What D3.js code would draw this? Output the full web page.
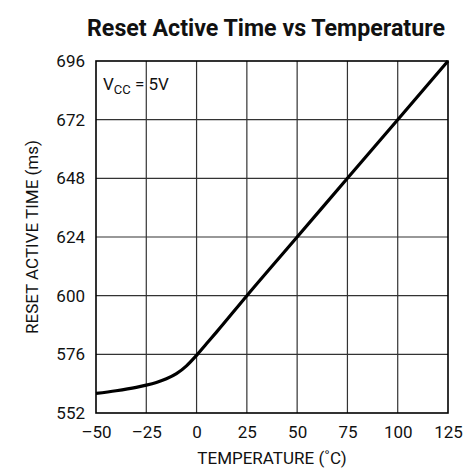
<!DOCTYPE html>
<html>
<head>
<meta charset="utf-8">
<script src="https://cdn.jsdelivr.net/npm/d3@7"></script>
<style>
  body { margin: 0; background: #fff; }
  #root { width: 463px; height: 473px; }
  text { font-family: Roboto, "Liberation Sans", sans-serif; fill: #111; }
</style>
</head>
<body>
<div id="root"></div>
<script>
// data
const temps = [-50, -40, -30, -25, -20, -15, -10, -5, 0, 5, 10, 25, 50, 75, 100, 125];
const resetTimes = [560, 561.1, 562.5, 563.4, 564.5, 566, 568.1, 571.3, 575.6, 580.4, 585.2, 600, 624, 648, 672, 696];
const xTicks = [-50, -25, 0, 25, 50, 75, 100, 125];
const yTicks = [552, 576, 600, 624, 648, 672, 696];

const root = document.getElementById('root');
const padding = { top: 61, right: 15, bottom: 60, left: 96 };
const width = 463 - padding.left - padding.right;
const height = 473 - padding.top - padding.bottom;

const svg = d3.select(root)
    .append('svg')
    .attr('width', 463)
    .attr('height', 473);

const g = svg.append('g')
    .attr('transform', `translate(${padding.left}, ${padding.top})`);

// Title
svg.append('text')
    .text('Reset Active Time vs Temperature')
    .attr('x', 266)
    .attr('y', 36)
    .attr('text-anchor', 'middle')
    .attr('font-size', 24)
    .attr('font-weight', 'bold')
    .attr('textLength', 358)
    .attr('lengthAdjust', 'spacingAndGlyphs');

// Scales
const x = d3.scaleLinear().domain([-50, 125]).range([0, width]);
const y = d3.scaleLinear().domain([552, 696]).range([height, 0]);

// Grid
g.selectAll('.vgrid')
    .data(xTicks.slice(1, -1))
    .enter()
    .append('line')
    .attr('class', 'vgrid')
    .attr('x1', d => x(d)).attr('x2', d => x(d))
    .attr('y1', 0).attr('y2', height)
    .attr('stroke', '#333')
    .attr('stroke-width', 1.2);
g.selectAll('.hgrid')
    .data(yTicks.slice(1, -1))
    .enter()
    .append('line')
    .attr('class', 'hgrid')
    .attr('y1', d => y(d)).attr('y2', d => y(d))
    .attr('x1', 0).attr('x2', width)
    .attr('stroke', '#333')
    .attr('stroke-width', 1.2);

// Frame
g.append('rect')
    .attr('width', width)
    .attr('height', height)
    .attr('fill', 'none')
    .attr('stroke', '#000')
    .attr('stroke-width', 1.6);

// Axes (labels only)
const xAxis = d3.axisBottom(x)
    .tickValues(xTicks)
    .tickSize(0)
    .tickPadding(13)
    .tickFormat(d => d < 0 ? '\u2013' + Math.abs(d) : d);
const xg = g.append('g')
    .attr('transform', `translate(0,${height})`)
    .call(xAxis);
xg.select('.domain').remove();
xg.selectAll('text').attr('font-size', 17).attr('font-family', null);

const yAxis = d3.axisLeft(y)
    .tickValues(yTicks)
    .tickSize(0)
    .tickPadding(11);
const yg = g.append('g').call(yAxis);
yg.select('.domain').remove();
yg.selectAll('text').attr('font-size', 17).attr('font-family', null);

// Axis titles
svg.append('text')
    .text('TEMPERATURE (\u02DAC)')
    .attr('x', padding.left + width / 2)
    .attr('y', 464)
    .attr('text-anchor', 'middle')
    .attr('font-size', 17);
svg.append('text')
    .text('RESET ACTIVE TIME (ms)')
    .attr('text-anchor', 'middle')
    .attr('font-size', 17)
    .attr('transform', `translate(38, ${padding.top + height / 2}) rotate(-90)`);

// VCC label
const vcc = g.append('text')
    .attr('x', 7)
    .attr('y', 29)
    .attr('font-size', 17);
vcc.append('tspan').text('V');
vcc.append('tspan').text('CC').attr('font-size', 13).attr('dy', 4);
vcc.append('tspan').text(' = 5V').attr('dy', -4);

// Curve
const line = d3.line()
    .x((d, i) => x(temps[i]))
    .y(d => y(d))
    .curve(d3.curveMonotoneX);
g.append('path')
    .datum(resetTimes)
    .attr('d', line)
    .attr('fill', 'none')
    .attr('stroke', '#000')
    .attr('stroke-width', 3.2);
</script>
</body>
</html>
